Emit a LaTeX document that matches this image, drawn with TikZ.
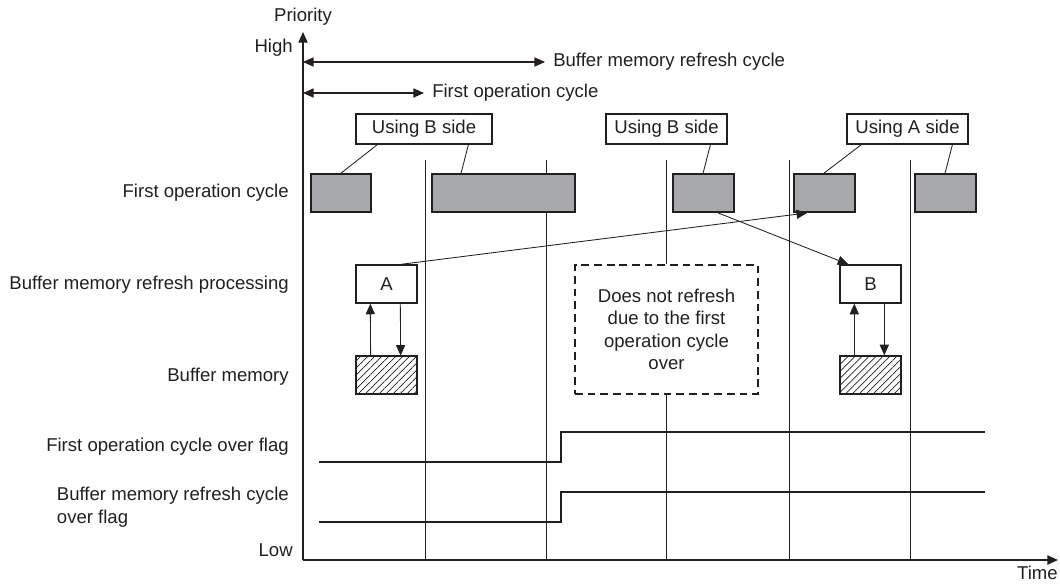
\documentclass[tikz,border=0pt]{standalone}
\usepackage{fontspec}
\setmainfont{Liberation Sans}
\usepackage{tikz}
\usetikzlibrary{arrows.meta}
\usetikzlibrary{patterns.meta}
\usetikzlibrary{positioning}
\usepackage{xcolor}
\definecolor{inkcol}{RGB}{35,31,32}
\definecolor{taskgray}{RGB}{167,168,171}

\begin{document}
\begin{tikzpicture}[x=0.025cm, y=-0.025cm, inkcol,
    font=\fontsize{13.2}{16}\selectfont,
    >={Triangle[length=7.5pt,width=6.5pt]},
    taskbox/.style={draw, line width=1.3pt, fill=taskgray, minimum height=0.95cm, inner sep=0pt},
    sidebox/.style={draw, line width=0.8pt, fill=white, minimum height=0.75cm, inner sep=0pt},
    refbox/.style={draw, line width=1pt, minimum width=1.525cm, minimum height=0.95cm, inner sep=0pt},
    memblock/.style={draw, line width=1pt, minimum width=1.525cm, minimum height=0.95cm, inner sep=0pt,
        pattern={Lines[angle=45,distance=3.5pt,line width=0.5pt]}, pattern color=inkcol},
    rowlabel/.style={anchor=east, inner sep=0pt},
    gridline/.style={line width=0.6pt},
    flagline/.style={line width=1.2pt}]

    % 1. Fix the size of the page
    \useasboundingbox (0,0) rectangle (1060,585);

    % 2. Draw the axes with their end labels
    \coordinate (origin) at (303,560);
    \coordinate (ytop) at (303,32);
    \coordinate (xend) at (1058,560);
    \draw[->, line width=1pt] (origin) -- (ytop);
    \draw[->, line width=1pt] (origin) -- (xend);
    \node[inner sep=0pt] (priority) at (303,17) {Priority};
    \node[rowlabel] (high) at (293,48) {High};
    \node[rowlabel] (low) at (293,550) {Low};
    \node[anchor=north east, inner sep=0pt] (time) at (1058,566) {Time};

    % 3. Cycle arrows at the top
    \coordinate (brcstart) at (303,62);
    \coordinate (focstart) at (303,93);
    \node[anchor=west, inner sep=0pt] (brclabel) at (553,62) {Buffer memory refresh cycle};
    \node[anchor=west, inner sep=0pt] (foclabel) at (432,93) {First operation cycle};
    \draw[<->, line width=0.8pt] (brcstart) -- ([xshift=-0.2cm]brclabel.west);
    \draw[<->, line width=0.8pt] (focstart) -- ([xshift=-0.2cm]foclabel.west);

    % 4. Row labels on the left
    \node[rowlabel] (lblfoc) at (289,193) {First operation cycle};
    \node[rowlabel] (lblref) at (289,285) {Buffer memory refresh processing};
    \node[rowlabel] (lblmem) at (289,377) {Buffer memory};
    \node[rowlabel] (lblflag1) at (289,447) {First operation cycle over flag};
    \node[rowlabel, align=left, font=\fontsize{13.2}{16.3}\selectfont] (lblflag2) at (289,507)
        {Buffer memory refresh cycle\\over flag};

    % 5. Vertical cycle lines (the middle one stops at the dashed box)
    \foreach \x in {425, 546, 789, 910} {
        \draw[gridline] (\x,160) -- (\x,560);
    }
    \node[draw, line width=1pt, dash pattern=on 5.5pt off 3.5pt, minimum width=4.575cm,
        minimum height=3.225cm, align=center, inner sep=0pt] (norefresh) at (666.5,329.5)
        {Does not refresh\\due to the first\\operation cycle\\over};
    \coordinate (midtop) at (666.5,160);
    \coordinate (midbot) at (666.5,560);
    \draw[gridline] (midtop) -- (norefresh.north);
    \draw[gridline] (norefresh.south) -- (midbot);

    % 6. First operation cycle tasks
    \node[taskbox, minimum width=1.5cm] (task1) at (341,193) {};
    \node[taskbox, minimum width=3.575cm] (task2) at (503.5,193) {};
    \node[taskbox, minimum width=1.525cm] (task3) at (703.5,193) {};
    \node[taskbox, minimum width=1.525cm] (task4) at (824.5,193) {};
    \node[taskbox, minimum width=1.525cm] (task5) at (945.5,193) {};

    % 7. Side callouts
    \node[sidebox, minimum width=3.4cm] (sideB1) at (424,129) {Using B side};
    \node[sidebox, minimum width=3.025cm] (sideB2) at (666.5,129) {Using B side};
    \node[sidebox, minimum width=3.025cm] (sideA) at (907.5,129) {Using A side};
    \draw[line width=0.6pt] ([xshift=0.55cm]sideB1.south west) -- ([xshift=0.775cm]task1.north west);
    \draw[line width=0.6pt] ([xshift=2.825cm]sideB1.south west) -- ([xshift=0.75cm]task2.north west);
    \draw[line width=0.6pt] ([xshift=2.625cm]sideB2.south west) -- ([xshift=0.775cm]task3.north west);
    \draw[line width=0.6pt] ([xshift=0.375cm]sideA.south west) -- ([xshift=0.775cm]task4.north west);
    \draw[line width=0.6pt] ([xshift=2.65cm]sideA.south west) -- ([xshift=0.775cm]task5.north west);

    % 8. Refresh processing and buffer memory
    \node[refbox] (refA) at (386.5,284) {A};
    \node[memblock] (memA) at (386.5,375) {};
    \node[refbox] (refB) at (870.5,284) {B};
    \node[memblock] (memB) at (870.5,375) {};

    \draw[->, line width=0.6pt] ([xshift=0.375cm]memA.north west) -- ([xshift=0.375cm]refA.south west);
    \draw[->, line width=0.6pt] ([xshift=1.125cm]refA.south west) -- ([xshift=1.125cm]memA.north west);
    \draw[->, line width=0.6pt] ([xshift=0.375cm]memB.north west) -- ([xshift=0.375cm]refB.south west);
    \draw[->, line width=0.6pt] ([xshift=1.125cm]refB.south west) -- ([xshift=1.125cm]memB.north west);

    % 9. Switching between the sides
    \draw[->, line width=0.6pt] ([xshift=1.15cm]refA.north west) -- ([xshift=0.35cm]task4.south west);
    \draw[->, line width=0.6pt] ([xshift=1.15cm]task3.south west) -- ([xshift=0.225cm]refB.north west);

    % 10. Over flags
    \draw[flagline] (319,462) -- (561,462) -- (561,432) -- (985,432);
    \draw[flagline] (319,522) -- (561,522) -- (561,492) -- (985,492);

\end{tikzpicture}
\end{document}
